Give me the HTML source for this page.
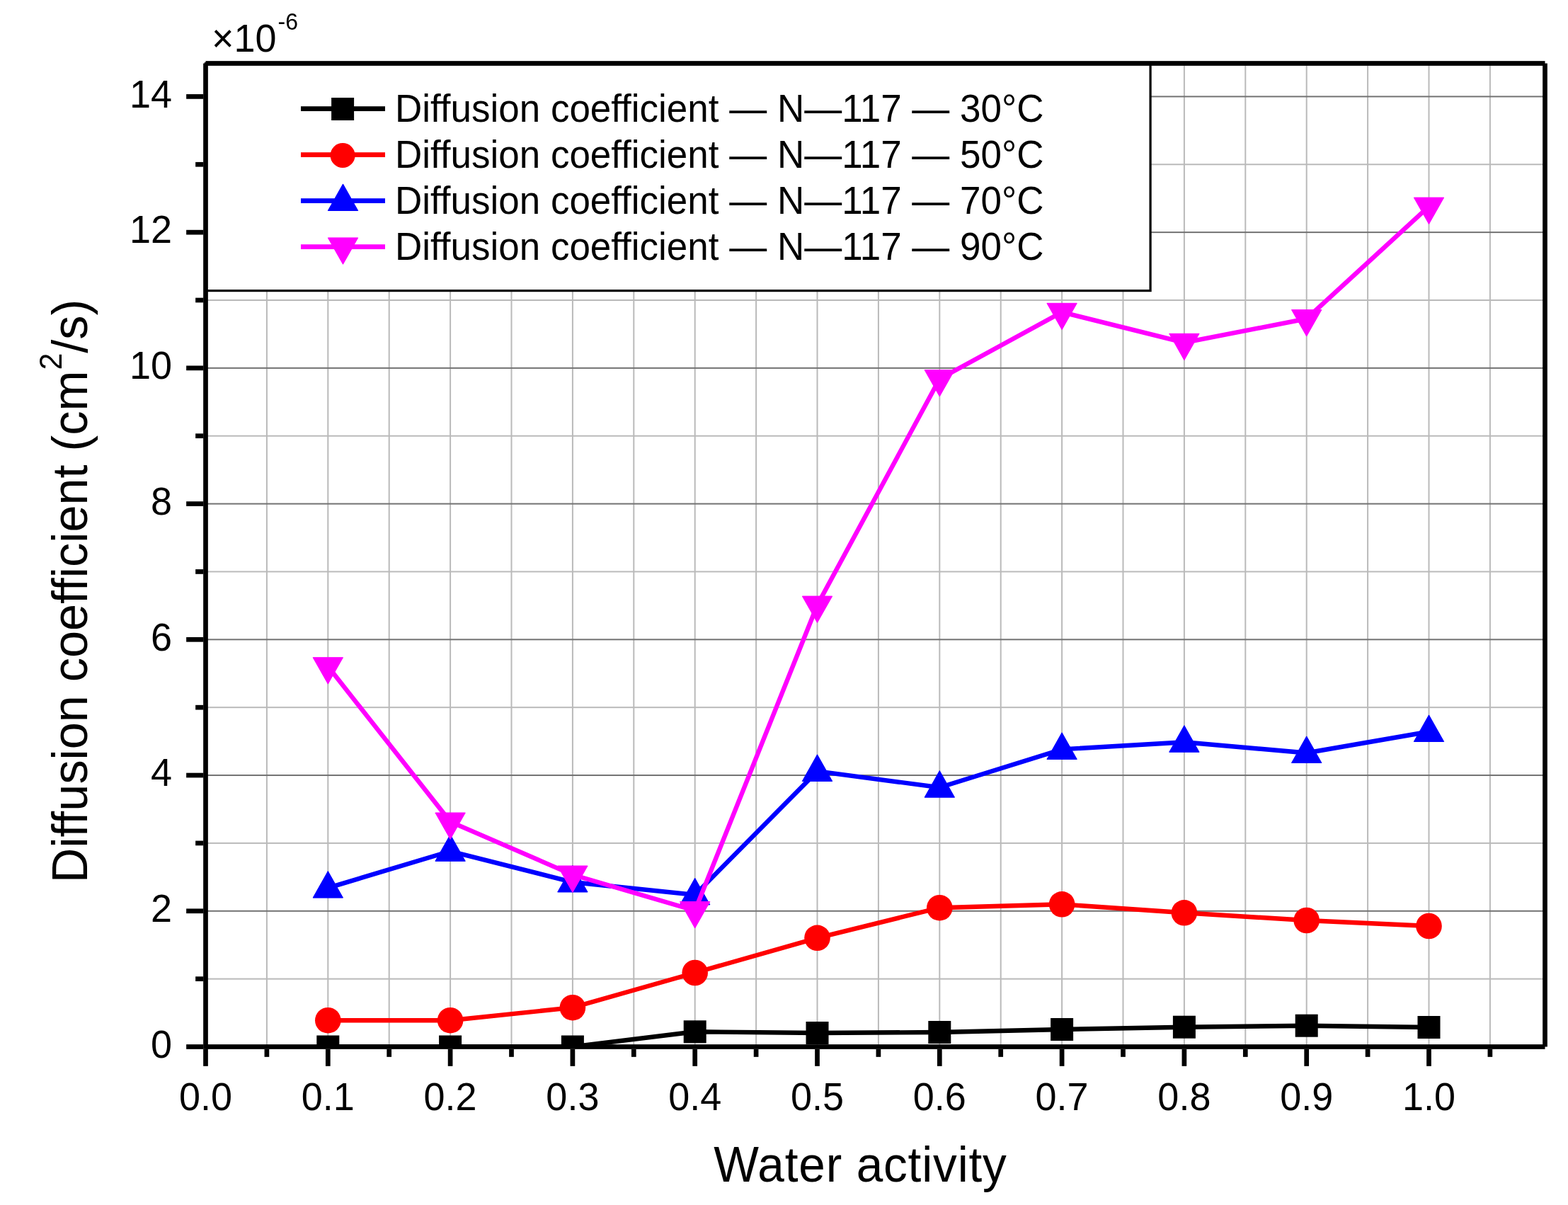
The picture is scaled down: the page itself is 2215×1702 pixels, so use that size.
<!DOCTYPE html>
<html><head><meta charset="utf-8"><title>Diffusion coefficient vs water activity</title>
<style>
html,body{margin:0;padding:0;background:#fff;}
body{width:2215px;height:1702px;overflow:hidden;}
svg{display:block;}
text{font-family:"Liberation Sans",Arial,sans-serif;fill:#000;}
.tk{font-size:54px;}
.lt{font-size:53px;}
.ti{font-size:69px;}
</style></head><body>
<svg width="2215" height="1702" viewBox="0 0 2215 1702">
<rect x="0" y="0" width="2215" height="1702" fill="#fff"/>
<defs><clipPath id="pc"><rect x="290.5" y="89.5" width="1892.0" height="1389.0"/></clipPath></defs>
<g><rect x="375.90" y="89.5" width="2" height="1389.0" fill="#bababa"/><rect x="462.30" y="89.5" width="2" height="1389.0" fill="#bababa"/><rect x="548.70" y="89.5" width="2" height="1389.0" fill="#bababa"/><rect x="635.10" y="89.5" width="2" height="1389.0" fill="#bababa"/><rect x="721.50" y="89.5" width="2" height="1389.0" fill="#bababa"/><rect x="807.90" y="89.5" width="2" height="1389.0" fill="#bababa"/><rect x="894.30" y="89.5" width="2" height="1389.0" fill="#bababa"/><rect x="980.70" y="89.5" width="2" height="1389.0" fill="#bababa"/><rect x="1067.10" y="89.5" width="2" height="1389.0" fill="#bababa"/><rect x="1153.50" y="89.5" width="2" height="1389.0" fill="#bababa"/><rect x="1239.90" y="89.5" width="2" height="1389.0" fill="#bababa"/><rect x="1326.30" y="89.5" width="2" height="1389.0" fill="#bababa"/><rect x="1412.70" y="89.5" width="2" height="1389.0" fill="#bababa"/><rect x="1499.10" y="89.5" width="2" height="1389.0" fill="#bababa"/><rect x="1585.50" y="89.5" width="2" height="1389.0" fill="#bababa"/><rect x="1671.90" y="89.5" width="2" height="1389.0" fill="#bababa"/><rect x="1758.30" y="89.5" width="2" height="1389.0" fill="#bababa"/><rect x="1844.70" y="89.5" width="2" height="1389.0" fill="#bababa"/><rect x="1931.10" y="89.5" width="2" height="1389.0" fill="#bababa"/><rect x="2017.50" y="89.5" width="2" height="1389.0" fill="#bababa"/><rect x="2103.90" y="89.5" width="2" height="1389.0" fill="#bababa"/><rect x="290.5" y="1381.64" width="1892.0" height="2" fill="#bababa"/><rect x="290.5" y="1189.91" width="1892.0" height="2" fill="#bababa"/><rect x="290.5" y="998.18" width="1892.0" height="2" fill="#bababa"/><rect x="290.5" y="806.45" width="1892.0" height="2" fill="#bababa"/><rect x="290.5" y="614.72" width="1892.0" height="2" fill="#bababa"/><rect x="290.5" y="422.99" width="1892.0" height="2" fill="#bababa"/><rect x="290.5" y="231.26" width="1892.0" height="2" fill="#bababa"/><rect x="290.5" y="1285.77" width="1892.0" height="2" fill="#727272"/><rect x="290.5" y="1094.04" width="1892.0" height="2" fill="#727272"/><rect x="290.5" y="902.31" width="1892.0" height="2" fill="#727272"/><rect x="290.5" y="710.59" width="1892.0" height="2" fill="#727272"/><rect x="290.5" y="518.86" width="1892.0" height="2" fill="#727272"/><rect x="290.5" y="327.13" width="1892.0" height="2" fill="#727272"/><rect x="290.5" y="135.40" width="1892.0" height="2" fill="#727272"/></g>
<g clip-path="url(#pc)"><polyline points="463.3,1478.5 636.1,1478.5 808.9,1478.5 981.7,1457.3 1154.5,1459.0 1327.3,1458.0 1500.1,1454.0 1672.9,1450.7 1845.7,1448.7 2018.5,1451.0" fill="none" stroke="#000" stroke-width="6.4" stroke-linejoin="miter"/><rect x="447.3" y="1462.5" width="32" height="32" fill="#000"/><rect x="620.1" y="1462.5" width="32" height="32" fill="#000"/><rect x="792.9" y="1462.5" width="32" height="32" fill="#000"/><rect x="965.7" y="1441.3" width="32" height="32" fill="#000"/><rect x="1138.5" y="1443.0" width="32" height="32" fill="#000"/><rect x="1311.3" y="1442.0" width="32" height="32" fill="#000"/><rect x="1484.1" y="1438.0" width="32" height="32" fill="#000"/><rect x="1656.9" y="1434.7" width="32" height="32" fill="#000"/><rect x="1829.7" y="1432.7" width="32" height="32" fill="#000"/><rect x="2002.5" y="1435.0" width="32" height="32" fill="#000"/><polyline points="463.3,1441.2 636.1,1441.2 808.9,1423.2 981.7,1374.0 1154.5,1324.8 1327.3,1282.2 1500.1,1277.3 1672.9,1289.3 1845.7,1300.0 2018.5,1308.0" fill="none" stroke="#ff0000" stroke-width="6.4" stroke-linejoin="miter"/><circle cx="463.3" cy="1441.2" r="18.3" fill="#f00"/><circle cx="636.1" cy="1441.2" r="18.3" fill="#f00"/><circle cx="808.9" cy="1423.2" r="18.3" fill="#f00"/><circle cx="981.7" cy="1374.0" r="18.3" fill="#f00"/><circle cx="1154.5" cy="1324.8" r="18.3" fill="#f00"/><circle cx="1327.3" cy="1282.2" r="18.3" fill="#f00"/><circle cx="1500.1" cy="1277.3" r="18.3" fill="#f00"/><circle cx="1672.9" cy="1289.3" r="18.3" fill="#f00"/><circle cx="1845.7" cy="1300.0" r="18.3" fill="#f00"/><circle cx="2018.5" cy="1308.0" r="18.3" fill="#f00"/><polyline points="463.3,1254.1 636.1,1202.3 808.9,1246.0 981.7,1263.9 1154.5,1089.4 1327.3,1112.2 1500.1,1058.4 1672.9,1048.3 1845.7,1063.5 2018.5,1033.5" fill="none" stroke="#0000ff" stroke-width="6.4" stroke-linejoin="miter"/><polygon points="463.3,1230.5 484.5,1268.1 442.1,1268.1" fill="#00f" stroke="#00f" stroke-width="1" stroke-linejoin="round"/><polygon points="636.1,1178.7 657.3,1216.3 614.9,1216.3" fill="#00f" stroke="#00f" stroke-width="1" stroke-linejoin="round"/><polygon points="808.9,1222.4 830.1,1260.0 787.7,1260.0" fill="#00f" stroke="#00f" stroke-width="1" stroke-linejoin="round"/><polygon points="981.7,1240.3 1002.9,1277.9 960.5,1277.9" fill="#00f" stroke="#00f" stroke-width="1" stroke-linejoin="round"/><polygon points="1154.5,1065.8 1175.7,1103.4 1133.3,1103.4" fill="#00f" stroke="#00f" stroke-width="1" stroke-linejoin="round"/><polygon points="1327.3,1088.6 1348.5,1126.2 1306.1,1126.2" fill="#00f" stroke="#00f" stroke-width="1" stroke-linejoin="round"/><polygon points="1500.1,1034.8 1521.3,1072.4 1478.9,1072.4" fill="#00f" stroke="#00f" stroke-width="1" stroke-linejoin="round"/><polygon points="1672.9,1024.7 1694.1,1062.3 1651.7,1062.3" fill="#00f" stroke="#00f" stroke-width="1" stroke-linejoin="round"/><polygon points="1845.7,1039.9 1866.9,1077.5 1824.5,1077.5" fill="#00f" stroke="#00f" stroke-width="1" stroke-linejoin="round"/><polygon points="2018.5,1009.9 2039.7,1047.5 1997.3,1047.5" fill="#00f" stroke="#00f" stroke-width="1" stroke-linejoin="round"/><polyline points="463.3,941.3 636.1,1160.6 808.9,1235.6 981.7,1286.2 1154.5,854.7 1327.3,535.2 1500.1,440.9 1672.9,483.9 1845.7,450.2 2018.5,291.7" fill="none" stroke="#ff00ff" stroke-width="6.4" stroke-linejoin="miter"/><polygon points="442.1,928.7 484.5,928.7 463.3,966.1" fill="#f0f" stroke="#f0f" stroke-width="1" stroke-linejoin="round"/><polygon points="614.9,1148.0 657.3,1148.0 636.1,1185.4" fill="#f0f" stroke="#f0f" stroke-width="1" stroke-linejoin="round"/><polygon points="787.7,1223.0 830.1,1223.0 808.9,1260.4" fill="#f0f" stroke="#f0f" stroke-width="1" stroke-linejoin="round"/><polygon points="960.5,1273.6 1002.9,1273.6 981.7,1311.0" fill="#f0f" stroke="#f0f" stroke-width="1" stroke-linejoin="round"/><polygon points="1133.3,842.1 1175.7,842.1 1154.5,879.5" fill="#f0f" stroke="#f0f" stroke-width="1" stroke-linejoin="round"/><polygon points="1306.1,522.6 1348.5,522.6 1327.3,560.0" fill="#f0f" stroke="#f0f" stroke-width="1" stroke-linejoin="round"/><polygon points="1478.9,428.3 1521.3,428.3 1500.1,465.7" fill="#f0f" stroke="#f0f" stroke-width="1" stroke-linejoin="round"/><polygon points="1651.7,471.3 1694.1,471.3 1672.9,508.7" fill="#f0f" stroke="#f0f" stroke-width="1" stroke-linejoin="round"/><polygon points="1824.5,437.6 1866.9,437.6 1845.7,475.0" fill="#f0f" stroke="#f0f" stroke-width="1" stroke-linejoin="round"/><polygon points="1997.3,279.1 2039.7,279.1 2018.5,316.5" fill="#f0f" stroke="#f0f" stroke-width="1" stroke-linejoin="round"/></g>
<g><rect x="290.5" y="89.5" width="1334.6" height="321.1" fill="#fff" stroke="#000" stroke-width="3.2"/><rect x="425" y="150.2" width="119" height="6.8" fill="#000"/><rect x="468.1" y="138.0" width="32" height="32" fill="#000"/><text transform="translate(558.0,171.8) scale(1,1.041)" class="lt">Diffusion coefficient — N—117 — 30°C</text><rect x="425" y="215.2" width="119" height="6.8" fill="#ff0000"/><circle cx="484.1" cy="219.5" r="17.5" fill="#ff0000"/><text transform="translate(558.0,236.8) scale(1,1.041)" class="lt">Diffusion coefficient — N—117 — 50°C</text><rect x="425" y="280.2" width="119" height="6.8" fill="#0000ff"/><polygon points="484.5,259.9 505.7,297.5 463.3,297.5" fill="#0000ff" stroke="#0000ff" stroke-width="1" stroke-linejoin="round"/><text transform="translate(558.0,301.8) scale(1,1.041)" class="lt">Diffusion coefficient — N—117 — 70°C</text><rect x="425" y="345.2" width="119" height="6.8" fill="#ff00ff"/><polygon points="463.3,335.9 505.7,335.9 484.5,373.3" fill="#ff00ff" stroke="#ff00ff" stroke-width="1" stroke-linejoin="round"/><text transform="translate(558.0,366.8) scale(1,1.041)" class="lt">Diffusion coefficient — N—117 — 90°C</text></g>
<g><rect x="287.15" y="89.50" width="6.70" height="1392.35" fill="#000"/><rect x="2179.15" y="89.50" width="6.70" height="1389.00" fill="#000"/><rect x="290.50" y="86.15" width="1892.00" height="6.70" fill="#000"/><rect x="290.50" y="1475.15" width="1892.00" height="6.70" fill="#000"/><rect x="287.15" y="1481.85" width="6.70" height="24" fill="#000"/><rect x="373.55" y="1481.85" width="6.70" height="11" fill="#000"/><rect x="459.95" y="1481.85" width="6.70" height="24" fill="#000"/><rect x="546.35" y="1481.85" width="6.70" height="11" fill="#000"/><rect x="632.75" y="1481.85" width="6.70" height="24" fill="#000"/><rect x="719.15" y="1481.85" width="6.70" height="11" fill="#000"/><rect x="805.55" y="1481.85" width="6.70" height="24" fill="#000"/><rect x="891.95" y="1481.85" width="6.70" height="11" fill="#000"/><rect x="978.35" y="1481.85" width="6.70" height="24" fill="#000"/><rect x="1064.75" y="1481.85" width="6.70" height="11" fill="#000"/><rect x="1151.15" y="1481.85" width="6.70" height="24" fill="#000"/><rect x="1237.55" y="1481.85" width="6.70" height="11" fill="#000"/><rect x="1323.95" y="1481.85" width="6.70" height="24" fill="#000"/><rect x="1410.35" y="1481.85" width="6.70" height="11" fill="#000"/><rect x="1496.75" y="1481.85" width="6.70" height="24" fill="#000"/><rect x="1583.15" y="1481.85" width="6.70" height="11" fill="#000"/><rect x="1669.55" y="1481.85" width="6.70" height="24" fill="#000"/><rect x="1755.95" y="1481.85" width="6.70" height="11" fill="#000"/><rect x="1842.35" y="1481.85" width="6.70" height="24" fill="#000"/><rect x="1928.75" y="1481.85" width="6.70" height="11" fill="#000"/><rect x="2015.15" y="1481.85" width="6.70" height="24" fill="#000"/><rect x="2101.55" y="1481.85" width="6.70" height="11" fill="#000"/><rect x="263.15" y="1475.15" width="24" height="6.70" fill="#000"/><rect x="276.15" y="1379.29" width="11" height="6.70" fill="#000"/><rect x="263.15" y="1283.42" width="24" height="6.70" fill="#000"/><rect x="276.15" y="1187.56" width="11" height="6.70" fill="#000"/><rect x="263.15" y="1091.69" width="24" height="6.70" fill="#000"/><rect x="276.15" y="995.83" width="11" height="6.70" fill="#000"/><rect x="263.15" y="899.96" width="24" height="6.70" fill="#000"/><rect x="276.15" y="804.10" width="11" height="6.70" fill="#000"/><rect x="263.15" y="708.24" width="24" height="6.70" fill="#000"/><rect x="276.15" y="612.37" width="11" height="6.70" fill="#000"/><rect x="263.15" y="516.51" width="24" height="6.70" fill="#000"/><rect x="276.15" y="420.64" width="11" height="6.70" fill="#000"/><rect x="263.15" y="324.78" width="24" height="6.70" fill="#000"/><rect x="276.15" y="228.91" width="11" height="6.70" fill="#000"/><rect x="263.15" y="133.05" width="24" height="6.70" fill="#000"/></g>
<g><text transform="translate(243.0,1493.7) scale(1,1.041)" class="tk" text-anchor="end">0</text><text transform="translate(243.0,1302.0) scale(1,1.041)" class="tk" text-anchor="end">2</text><text transform="translate(243.0,1110.2) scale(1,1.041)" class="tk" text-anchor="end">4</text><text transform="translate(243.0,918.5) scale(1,1.041)" class="tk" text-anchor="end">6</text><text transform="translate(243.0,726.8) scale(1,1.041)" class="tk" text-anchor="end">8</text><text transform="translate(243.0,535.1) scale(1,1.041)" class="tk" text-anchor="end">10</text><text transform="translate(243.0,343.3) scale(1,1.041)" class="tk" text-anchor="end">12</text><text transform="translate(243.0,151.6) scale(1,1.041)" class="tk" text-anchor="end">14</text><text transform="translate(290.5,1567.5) scale(1,1.041)" class="tk" text-anchor="middle">0.0</text><text transform="translate(463.3,1567.5) scale(1,1.041)" class="tk" text-anchor="middle">0.1</text><text transform="translate(636.1,1567.5) scale(1,1.041)" class="tk" text-anchor="middle">0.2</text><text transform="translate(808.9,1567.5) scale(1,1.041)" class="tk" text-anchor="middle">0.3</text><text transform="translate(981.7,1567.5) scale(1,1.041)" class="tk" text-anchor="middle">0.4</text><text transform="translate(1154.5,1567.5) scale(1,1.041)" class="tk" text-anchor="middle">0.5</text><text transform="translate(1327.3,1567.5) scale(1,1.041)" class="tk" text-anchor="middle">0.6</text><text transform="translate(1500.1,1567.5) scale(1,1.041)" class="tk" text-anchor="middle">0.7</text><text transform="translate(1672.9,1567.5) scale(1,1.041)" class="tk" text-anchor="middle">0.8</text><text transform="translate(1845.7,1567.5) scale(1,1.041)" class="tk" text-anchor="middle">0.9</text><text transform="translate(2018.5,1567.5) scale(1,1.041)" class="tk" text-anchor="middle">1.0</text></g>
<text transform="translate(1215.5,1668.5) scale(1,1.04)" class="ti" text-anchor="middle" style="font-size:67.5px;letter-spacing:0.85px">Water activity</text>
<text transform="translate(123,1247) rotate(-90) scale(1,1.035)" class="ti" style="font-size:68.4px">Diffusion coefficient (cm<tspan dx="1" dy="-35" font-size="43">2</tspan><tspan dy="35">/s)</tspan></text>
<text transform="translate(299.0,73.0) scale(1,1.041)" class="tk">×10<tspan dx="2" dy="-30" font-size="32">-6</tspan></text>
</svg>
</body></html>
